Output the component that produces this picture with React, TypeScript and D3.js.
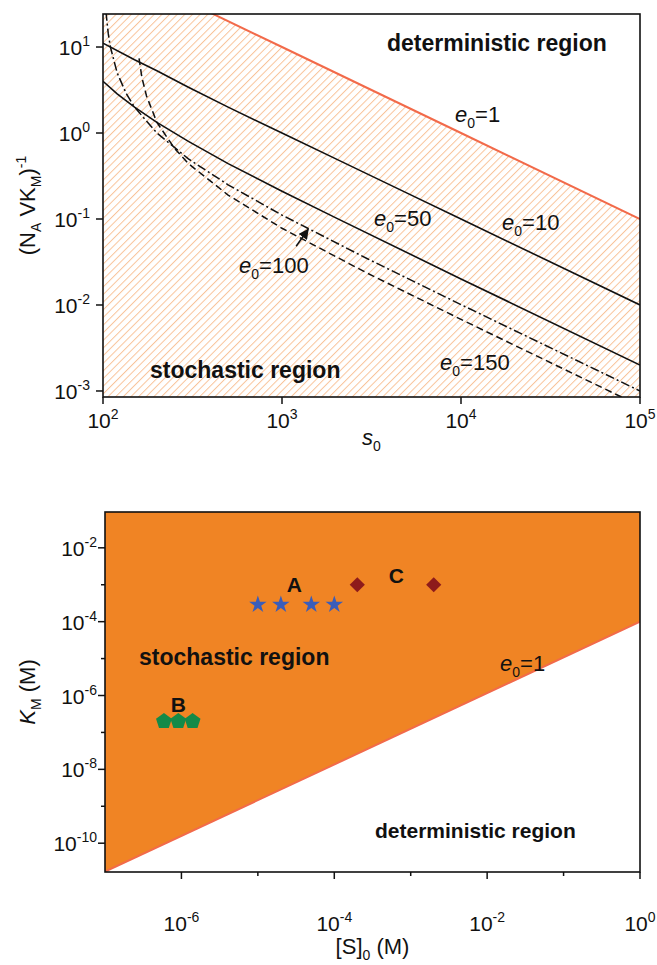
import React from 'react';
import * as d3 from 'd3';

// ---- top panel: (N_A V K_M)^-1 against s0, one curve per e0 ----
const curveE1 = [[300, 33.3], [1000, 10], [1e4, 1], [1e5, 0.1]];
const curveE10 = [[100, 11.1], [150, 7.1], [200, 5.3], [300, 3.4], [500, 2.0], [1000, 1.0], [2000, 0.5], [5000, 0.2], [1e4, 0.1], [1e5, 0.01]];
const curveE50 = [[100, 4.0], [120, 2.86], [150, 2.0], [200, 1.33], [300, 0.8], [500, 0.44], [1000, 0.21], [2000, 0.103], [1e4, 0.0201], [1e5, 0.002]];
const curveE100 = [[100.4, 250], [102, 50], [104, 25], [107, 14.3], [110, 10], [120, 5], [135, 2.86], [150, 2], [200, 1], [300, 0.5], [500, 0.25], [1000, 0.111], [3000, 0.0345], [1e4, 0.0101], [1e5, 0.001]];
const curveE150 = [[159, 7.4], [165, 4.4], [175, 2.7], [200, 1.33], [250, 0.67], [300, 0.44], [500, 0.19], [1000, 0.078], [3000, 0.0234], [1e4, 0.0068], [1e5, 0.00067]];
const topXTicks = [2, 3, 4, 5];
const topYTicks = [1, 0, -1, -2, -3];

// ---- bottom panel: K_M against [S]0 ----
const boundaryE1 = [[1e-7, 1.7e-11], [1, 1e-4]];
const enzymeA = [[1e-5, 2.9e-4], [2e-5, 2.9e-4], [5e-5, 2.9e-4], [1e-4, 2.9e-4]];
const enzymeB = [[5.9e-7, 2e-7], [9.1e-7, 2e-7], [1.4e-6, 2e-7]];
const enzymeC = [[2e-4, 1e-3], [2e-3, 1e-3]];
const botXMajor = [-6, -4, -2, 0];
const botXMinor = [-5, -3, -1];
const botYMajor = [-2, -4, -6, -8, -10];
const botYMinor = [-3, -5, -7, -9];

const FONT = 'Liberation Sans, Arial, Helvetica, sans-serif';
const ORANGE = '#F08424';
const RED = '#F26A4A';

function Pow({ x, y, exp, anchor }: { x: number; y: number; exp: string; anchor: string }) {
  return (
    <text x={x} y={y} textAnchor={anchor} fontSize={21} fontFamily={FONT} fill="#111">
      10<tspan dy={-9} fontSize={14}>{exp}</tspan>
    </text>
  );
}

function ELabel({ x, y, v }: { x: number; y: number; v: string }) {
  return (
    <text x={x} y={y} fontSize={22} fontFamily={FONT} fill="#111">
      <tspan fontStyle="italic">e</tspan>
      <tspan dy={6} fontSize={14}>0</tspan>
      <tspan dy={-6}>={v}</tspan>
    </text>
  );
}

function pentagon(r: number) {
  const pts = d3.range(5).map(k => {
    const a = -Math.PI / 2 + (k * 2 * Math.PI) / 5;
    return [r * Math.cos(a), r * Math.sin(a)] as [number, number];
  });
  return d3.line()(pts) + 'Z';
}

export default function App() {
  // top panel scales
  const tL = 103, tR = 640, tT = 14, tB = 397;
  const xT = d3.scaleLog().domain([100, 1e5]).range([tL, tR]);
  const yT = d3.scaleLog().domain([Math.pow(10, -3.07), Math.pow(10, 1.384)]).range([tB, tT]);
  const lineT = d3.line<number[]>().x(d => xT(d[0])).y(d => yT(d[1]));

  // bottom panel scales
  const bL = 105, bR = 640, bT = 512, bB = 872;
  const xB = d3.scaleLog().domain([1e-7, 1]).range([bL, bR]);
  const yB = d3.scaleLog().domain([Math.pow(10, -10.78), Math.pow(10, -1.03)]).range([bB, bT]);
  const lineB = d3.line<number[]>().x(d => xB(d[0])).y(d => yB(d[1]));

  // hatched area under the e0=1 line (top)
  const hatchPoly = [[100, 1e4 / 100], ...curveE1, [1e5, 1e-4], [100, 1e-4]];
  // stochastic area above the e0=1 line (bottom)
  const fillPoly = [[1e-7, 1], ...boundaryE1, [1, 1]];

  const star = d3.symbol(d3.symbolStar, 95)() as string;
  const diamond = d3.symbol(d3.symbolSquare, 115)() as string;
  const pent = pentagon(8.3);

  const arrowHead = [xT(1400), yT(0.076)];

  return (
    <svg width={657} height={965} style={{ position: 'absolute', left: 0, top: 0, display: 'block', background: '#fff' }}>
      <defs>
        <pattern id="hatch" width={5.4} height={5.4} patternUnits="userSpaceOnUse" patternTransform="rotate(45)">
          <line x1={0} y1={0} x2={0} y2={5.4} stroke="#F8C39A" strokeWidth={2} />
        </pattern>
        <clipPath id="clipTop">
          <rect x={tL} y={tT} width={tR - tL} height={tB - tT} />
        </clipPath>
        <clipPath id="clipBot">
          <rect x={bL} y={bT} width={bR - bL} height={bB - bT} />
        </clipPath>
        <marker id="arr" viewBox="0 0 10 10" refX={9} refY={5} markerWidth={7} markerHeight={7} orient="auto">
          <path d="M0,0 L10,5 L0,10 z" fill="#111" />
        </marker>
      </defs>

      {/* ================= top panel ================= */}
      <g clipPath="url(#clipTop)">
        <path d={lineT(hatchPoly) + 'Z'} fill="url(#hatch)" />
        <path d={lineT([[100, 100], ...curveE1]) as string} fill="none" stroke={RED} strokeWidth={2} />
        <path d={lineT(curveE10) as string} fill="none" stroke="#111" strokeWidth={1.6} />
        <path d={lineT(curveE50) as string} fill="none" stroke="#111" strokeWidth={1.6} />
        <path d={lineT(curveE100) as string} fill="none" stroke="#111" strokeWidth={1.5} strokeDasharray="9,3,2,3" />
        <path d={lineT(curveE150) as string} fill="none" stroke="#111" strokeWidth={1.5} strokeDasharray="7,4" />
      </g>
      <rect x={tL} y={tT} width={tR - tL} height={tB - tT} fill="none" stroke="#111" strokeWidth={1.6} />
      {topXTicks.map(e => (
        <g key={'tx' + e}>
          <line x1={xT(10 ** e)} x2={xT(10 ** e)} y1={tB} y2={tB + 7} stroke="#111" strokeWidth={1.5} />
          <Pow x={xT(10 ** e)} y={428} exp={String(e)} anchor="middle" />
        </g>
      ))}
      {topYTicks.map(e => (
        <g key={'ty' + e}>
          <line x1={tL - 7} x2={tL} y1={yT(10 ** e)} y2={yT(10 ** e)} stroke="#111" strokeWidth={1.5} />
          <Pow x={90} y={yT(10 ** e) + 8} exp={String(e)} anchor="end" />
        </g>
      ))}
      <text x={(tL + tR) / 2} y={445} textAnchor="middle" fontSize={22} fontFamily={FONT} fill="#111">
        <tspan fontStyle="italic">s</tspan>
        <tspan dy={6} fontSize={14}>0</tspan>
      </text>
      <text transform={`translate(35,${(tT + tB) / 2}) rotate(-90)`} textAnchor="middle" fontSize={22} fontFamily={FONT} fill="#111">
        (N<tspan dy={6} fontSize={14}>A</tspan>
        <tspan dy={-6}> VK</tspan>
        <tspan dy={6} fontSize={14}>M</tspan>
        <tspan dy={-6}>)</tspan>
        <tspan dy={-9} fontSize={14}>-1</tspan>
      </text>

      <text x={387} y={51} fontSize={23} fontWeight="bold" fontFamily={FONT} fill="#111">deterministic region</text>
      <text x={150} y={378} fontSize={23} fontWeight="bold" fontFamily={FONT} fill="#111">stochastic region</text>
      <ELabel x={455} y={122} v="1" />
      <ELabel x={374} y={226} v="50" />
      <ELabel x={502} y={230} v="10" />
      <ELabel x={239} y={273} v="100" />
      <ELabel x={440} y={370} v="150" />
      <line x1={arrowHead[0] - 12} y1={arrowHead[1] + 17} x2={arrowHead[0]} y2={arrowHead[1]} stroke="#111" strokeWidth={1.5} markerEnd="url(#arr)" />

      {/* ================= bottom panel ================= */}
      <g clipPath="url(#clipBot)">
        <path d={lineB(fillPoly) + 'Z'} fill={ORANGE} />
        <path d={lineB(boundaryE1) as string} fill="none" stroke={RED} strokeWidth={2} />
        {enzymeA.map((d, i) => (
          <path key={'a' + i} d={star} transform={`translate(${xB(d[0])},${yB(d[1])})`} fill="#3A5DBA" />
        ))}
        {enzymeC.map((d, i) => (
          <path key={'c' + i} d={diamond} transform={`translate(${xB(d[0])},${yB(d[1])}) rotate(45)`} fill="#8E1B1B" />
        ))}
        {enzymeB.map((d, i) => (
          <path key={'b' + i} d={pent} transform={`translate(${xB(d[0])},${yB(d[1])})`} fill="#138A48" />
        ))}
      </g>
      <rect x={bL} y={bT} width={bR - bL} height={bB - bT} fill="none" stroke="#111" strokeWidth={1.6} />
      {botXMajor.map(e => (
        <g key={'bx' + e}>
          <line x1={xB(10 ** e)} x2={xB(10 ** e)} y1={bB} y2={bB + 7} stroke="#111" strokeWidth={1.5} />
          <Pow x={xB(10 ** e)} y={931} exp={e === 0 ? '0' : String(e)} anchor="middle" />
        </g>
      ))}
      {botXMinor.map(e => (
        <line key={'bxm' + e} x1={xB(10 ** e)} x2={xB(10 ** e)} y1={bB} y2={bB + 4} stroke="#111" strokeWidth={1.5} />
      ))}
      {botYMajor.map(e => (
        <g key={'by' + e}>
          <line x1={bL - 7} x2={bL} y1={yB(10 ** e)} y2={yB(10 ** e)} stroke="#111" strokeWidth={1.5} />
          <Pow x={97} y={yB(10 ** e) + 8} exp={String(e)} anchor="end" />
        </g>
      ))}
      {botYMinor.map(e => (
        <line key={'bym' + e} x1={bL - 4} x2={bL} y1={yB(10 ** e)} y2={yB(10 ** e)} stroke="#111" strokeWidth={1.5} />
      ))}
      <text x={(bL + bR) / 2} y={954} textAnchor="middle" fontSize={22} fontFamily={FONT} fill="#111">
        [S]<tspan dy={6} fontSize={14}>0</tspan>
        <tspan dy={-6}> (M)</tspan>
      </text>
      <text transform={`translate(35,${(bT + bB) / 2}) rotate(-90)`} textAnchor="middle" fontSize={22} fontFamily={FONT} fill="#111">
        <tspan fontStyle="italic">K</tspan>
        <tspan dy={6} fontSize={14}>M</tspan>
        <tspan dy={-6}> (M)</tspan>
      </text>

      <text x={139} y={665} fontSize={23} fontWeight="bold" fontFamily={FONT} fill="#111">stochastic region</text>
      <text x={375} y={838} fontSize={21} fontWeight="bold" fontFamily={FONT} fill="#111">deterministic region</text>
      <ELabel x={500} y={671} v="1" />
      <text x={xB(3e-5)} y={592} textAnchor="middle" fontSize={21} fontWeight="bold" fontFamily={FONT} fill="#111">A</text>
      <text x={xB(9.1e-7)} y={712} textAnchor="middle" fontSize={21} fontWeight="bold" fontFamily={FONT} fill="#111">B</text>
      <text x={xB(6.5e-4)} y={583} textAnchor="middle" fontSize={21} fontWeight="bold" fontFamily={FONT} fill="#111">C</text>
    </svg>
  );
}
